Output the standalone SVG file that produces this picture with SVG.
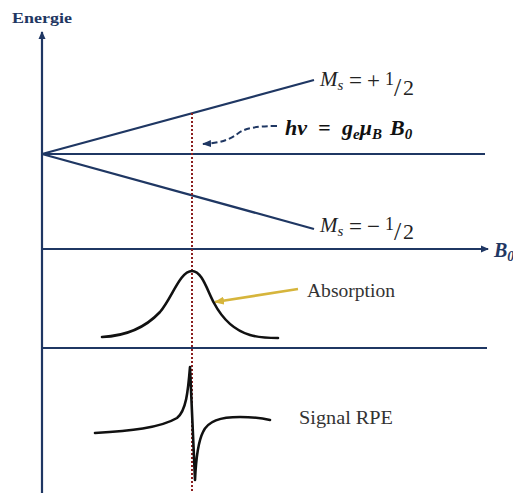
<svg xmlns="http://www.w3.org/2000/svg" width="513" height="493" viewBox="0 0 513 493">
<style>
.ax{stroke:#1f3763;stroke-width:2.2;fill:none}
.curve{stroke:#111;stroke-width:2.6;fill:none;stroke-linecap:round;stroke-linejoin:round}
.math{font-family:"Liberation Serif","DejaVu Serif",serif;font-style:italic;fill:#222}
.rm{font-family:"Liberation Serif","DejaVu Serif",serif;fill:#222}
.bi{font-family:"Liberation Serif","DejaVu Serif",serif;font-weight:bold;font-style:italic;fill:#111;font-size:22px}
.lbl{font-family:"Liberation Serif","DejaVu Serif",serif;font-size:18px;fill:#333}
</style>
<defs>
<marker id="nav" markerWidth="8" markerHeight="8" refX="7" refY="4" orient="auto" markerUnits="userSpaceOnUse"><path d="M0,0.5 L8,4 L0,7.5 Z" fill="#1f3763"/></marker>
<marker id="dash" markerWidth="9" markerHeight="8" refX="8" refY="4" orient="auto" markerUnits="userSpaceOnUse"><path d="M0,0.5 L9,4 L0,7.5 Z" fill="#1f3763"/></marker>
<marker id="yel" markerWidth="10" markerHeight="8" refX="9" refY="4" orient="auto" markerUnits="userSpaceOnUse"><path d="M0,0 L10,4 L0,8 Z" fill="#d6b53c"/></marker>
</defs>
<g id="axes">
<line class="ax" x1="42" y1="493" x2="42" y2="32" marker-end="url(#nav)"/>
<line class="ax" x1="42" y1="249" x2="488" y2="249" marker-end="url(#nav)"/>
<line class="ax" x1="42" y1="154" x2="485" y2="154"/>
<line class="ax" x1="42" y1="348" x2="487" y2="348"/>
<text x="12" y="23" font-family="Liberation Serif,serif" font-weight="bold" font-size="15" fill="#1f3763" textLength="60" lengthAdjust="spacingAndGlyphs">Energie</text>
<text x="494" y="257" font-family="Liberation Serif,serif" font-weight="bold" font-style="italic" font-size="20" fill="#1f3763">B<tspan font-size="14" dy="4">0</tspan></text>
</g>
<g id="levels">
<line class="ax" x1="42" y1="154" x2="314" y2="80"/>
<line class="ax" x1="42" y1="154" x2="314" y2="229"/>
</g>
<g id="ms-plus">
<text class="math" x="320" y="86" font-size="21">M<tspan font-size="15" dy="4">s</tspan></text>
<text class="rm" x="349" y="88" font-size="23">=</text>
<text class="rm" x="367" y="88" font-size="23">+</text>
<text class="rm" x="385" y="85" font-size="18">1</text>
<text class="rm" x="394" y="96" font-size="26">/</text>
<text class="rm" x="403" y="95" font-size="22">2</text>
</g>
<g id="ms-minus">
<text class="math" x="320" y="232" font-size="21">M<tspan font-size="15" dy="4">s</tspan></text>
<text class="rm" x="349" y="234" font-size="23">=</text>
<text class="rm" x="367" y="234" font-size="23">−</text>
<text class="rm" x="385" y="230" font-size="18">1</text>
<text class="rm" x="394" y="240" font-size="26">/</text>
<text class="rm" x="403" y="239" font-size="22">2</text>
</g>
<g id="resonance">
<text class="bi" x="285" y="135">hv<tspan x="318">=</tspan><tspan x="342">g</tspan><tspan font-size="15" dy="4">e</tspan><tspan dy="-4">μ</tspan><tspan font-size="15" dy="4">B</tspan><tspan x="390" dy="-4">B</tspan><tspan font-size="15" dy="4">0</tspan></text>
</g>
<g id="connectors">
<line x1="192" y1="113" x2="192" y2="493" stroke="#8b1f1f" stroke-width="2" stroke-dasharray="2 2"/>
<path d="M277,126 C258,126 247,128 240,132 C231,139 222,143 203,144" fill="none" stroke="#1f3763" stroke-width="2" stroke-dasharray="6 3" marker-end="url(#dash)"/>
<line x1="298" y1="289" x2="215" y2="302" stroke="#d6b53c" stroke-width="2.6" marker-end="url(#yel)"/>
</g>
<g id="absorption">
<path class="curve" d="M102,337 C125,336 145,328 160,312 C172,298 180,271 192,271 C202,271 207,290 214,303 C222,318 233,330 250,335 C260,338 270,338 278,338"/>
<text class="lbl" x="307" y="297" textLength="88" lengthAdjust="spacingAndGlyphs">Absorption</text>
</g>
<g id="epr-signal">
<path class="curve" d="M95,433 C130,431 160,428 177,418 C186,411 188,392 190,367 L195,480 C196,458 198,442 203,432 C208,421 220,417 240,417 C254,417 262,418 270,420"/>
<text class="lbl" x="299" y="424" textLength="94" lengthAdjust="spacingAndGlyphs">Signal RPE</text>
</g>
</svg>
